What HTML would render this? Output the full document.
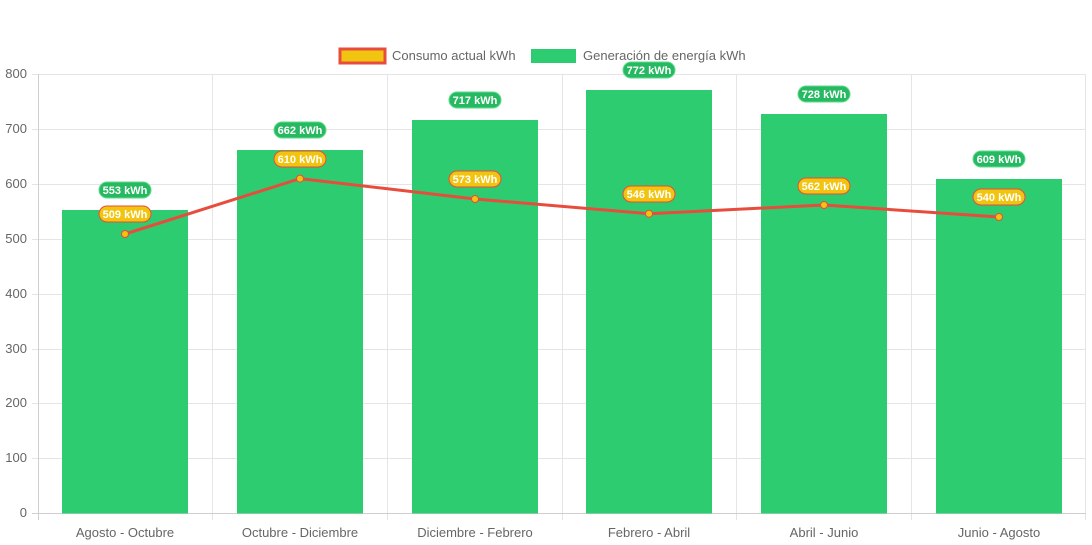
<!DOCTYPE html>
<html><head><meta charset="utf-8"><style>
html,body{margin:0;padding:0;background:#fff;width:1092px;height:545px;overflow:hidden}
svg{display:block;font-family:"Liberation Sans",sans-serif}
</style></head><body>
<svg width="1092" height="545" viewBox="0 0 1092 545">
<g stroke="#e5e5e5" stroke-width="1">
<line x1="32" y1="74.5" x2="1086" y2="74.5"/>
<line x1="32" y1="129.5" x2="1086" y2="129.5"/>
<line x1="32" y1="184.5" x2="1086" y2="184.5"/>
<line x1="32" y1="239.5" x2="1086" y2="239.5"/>
<line x1="32" y1="294.5" x2="1086" y2="294.5"/>
<line x1="32" y1="349.5" x2="1086" y2="349.5"/>
<line x1="32" y1="403.5" x2="1086" y2="403.5"/>
<line x1="32" y1="458.5" x2="1086" y2="458.5"/>
<line x1="212.5" y1="74" x2="212.5" y2="520"/>
<line x1="387.5" y1="74" x2="387.5" y2="520"/>
<line x1="562.5" y1="74" x2="562.5" y2="520"/>
<line x1="736.5" y1="74" x2="736.5" y2="520"/>
<line x1="911.5" y1="74" x2="911.5" y2="520"/>
<line x1="1085.5" y1="74" x2="1085.5" y2="520"/>
</g>
<g stroke="#cfcfcf"><line x1="38.5" y1="74" x2="38.5" y2="520"/><line x1="32" y1="513.5" x2="1086" y2="513.5"/></g>
<g font-size="13" fill="#666" text-anchor="end">
<text x="27" y="78">800</text><text x="27" y="133">700</text><text x="27" y="188">600</text><text x="27" y="243">500</text><text x="27" y="298">400</text><text x="27" y="353">300</text><text x="27" y="407">200</text><text x="27" y="462">100</text><text x="27" y="517">0</text>
</g>
<g font-size="13" fill="#666" text-anchor="middle">
<text x="125" y="537">Agosto - Octubre</text><text x="300" y="537">Octubre - Diciembre</text><text x="475" y="537">Diciembre - Febrero</text><text x="649" y="537">Febrero - Abril</text><text x="824" y="537">Abril - Junio</text><text x="999" y="537">Junio - Agosto</text>
</g>
<g fill="#2ecc71">
<rect x="62" y="210" width="126" height="303.5"/>
<rect x="237" y="150" width="126" height="363.5"/>
<rect x="412" y="120" width="126" height="393.5"/>
<rect x="586" y="90" width="126" height="423.5"/>
<rect x="761" y="114" width="126" height="399.5"/>
<rect x="936" y="179" width="126" height="334.5"/>
</g>
<polyline fill="none" stroke="#e74c3c" stroke-width="3" points="125,234 300,178.6 475,199 649,213.7 824,205 999,217"/>
<g fill="#f1c40f" stroke="#e74c3c" stroke-width="1">
<circle cx="125" cy="234" r="3.5"/><circle cx="300" cy="178.6" r="3.5"/><circle cx="475" cy="199" r="3.5"/><circle cx="649" cy="213.7" r="3.5"/><circle cx="824" cy="205" r="3.5"/><circle cx="999" cy="217" r="3.5"/>
</g>
<g font-size="11" font-weight="bold" fill="#fff" text-anchor="middle">
<g><rect x="99" y="182" width="52" height="16" rx="8" fill="#27b862" stroke="#5ddc8c"/><text x="125" y="194">553 kWh</text></g>
<g><rect x="274" y="122" width="52" height="16" rx="8" fill="#27b862" stroke="#5ddc8c"/><text x="300" y="134">662 kWh</text></g>
<g><rect x="449" y="92" width="52" height="16" rx="8" fill="#27b862" stroke="#5ddc8c"/><text x="475" y="104">717 kWh</text></g>
<g><rect x="623" y="62" width="52" height="16" rx="8" fill="#27b862" stroke="#5ddc8c"/><text x="649" y="74">772 kWh</text></g>
<g><rect x="798" y="86" width="52" height="16" rx="8" fill="#27b862" stroke="#5ddc8c"/><text x="824" y="98">728 kWh</text></g>
<g><rect x="973" y="151" width="52" height="16" rx="8" fill="#27b862" stroke="#5ddc8c"/><text x="999" y="163">609 kWh</text></g>
<g><rect x="99" y="206" width="52" height="16" rx="8" fill="#f1c40f" stroke="#e74c3c"/><text x="125" y="218">509 kWh</text></g>
<g><rect x="274" y="151" width="52" height="16" rx="8" fill="#f1c40f" stroke="#e74c3c"/><text x="300" y="163">610 kWh</text></g>
<g><rect x="449" y="171" width="52" height="16" rx="8" fill="#f1c40f" stroke="#e74c3c"/><text x="475" y="183">573 kWh</text></g>
<g><rect x="623" y="186" width="52" height="16" rx="8" fill="#f1c40f" stroke="#e74c3c"/><text x="649" y="198">546 kWh</text></g>
<g><rect x="798" y="178" width="52" height="16" rx="8" fill="#f1c40f" stroke="#e74c3c"/><text x="824" y="190">562 kWh</text></g>
<g><rect x="973" y="189" width="52" height="16" rx="8" fill="#f1c40f" stroke="#e74c3c"/><text x="999" y="201">540 kWh</text></g>
</g>
<rect x="340" y="49" width="45" height="14" fill="#f1c40f" stroke="#e74c3c" stroke-width="3"/>
<text x="392" y="60" font-size="13" fill="#666">Consumo actual kWh</text>
<rect x="531" y="49" width="45" height="14" fill="#2ecc71"/>
<text x="583" y="60" font-size="13" fill="#666">Generación de energía kWh</text>
</svg>
</body></html>
